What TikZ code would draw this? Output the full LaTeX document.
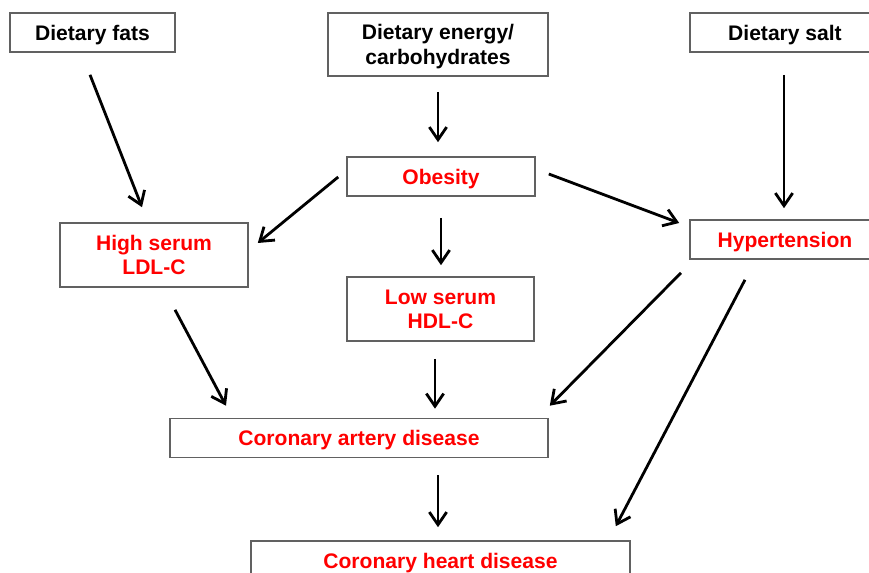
\documentclass[tikz,border=0pt]{standalone}
\usepackage{fontspec}
\setmainfont{Liberation Sans}
\usetikzlibrary{arrows.meta, calc}

\tikzset{
	box/.style={draw=black!62, line width=1.2pt, inner sep=0pt, align=center,
		font=\fontsize{15.8}{18.3}\selectfont\bfseries, text height=11.3pt, text depth=0pt},
	twolines/.style={text height=29.6pt},
	cause/.style={box, text=black},
	effect/.style={box, text=red},
	arr/.style={line width=2.1pt, -{Straight Barb[length=9.5pt, width=13pt, line width=2.1pt]}}
}

\begin{document}
\begin{tikzpicture}[x=0.75pt, y=-0.75pt]
	\useasboundingbox [fill=white] (0,0) rectangle (869,573);

	\node [cause, minimum width=123.75pt, minimum height=29.25pt] (fats) at (92.5,32.5) {Dietary fats};
	\node [cause, twolines, minimum width=165pt, minimum height=47.25pt] (energy) at (438,44.5) {Dietary energy/\\carbohydrates};
	\node [cause, minimum width=142.5pt, minimum height=29.25pt] (salt) at (785,32.5) {Dietary salt};

	\node [effect, minimum width=141pt, minimum height=29.25pt] (obesity) at (441,176.5) {Obesity};
	\node [effect, twolines, minimum width=141pt, minimum height=48pt] (ldl) at (154,255) {High serum\\LDL-C};
	\node [effect, minimum width=142.5pt, minimum height=29.25pt] (hyp) at (785,239.5) {Hypertension};
	\node [effect, twolines, minimum width=140.25pt, minimum height=48pt] (hdl) at (440.5,309) {Low serum\\HDL-C};
	\node [effect, minimum width=283.5pt, minimum height=29.25pt] (cad) at (359,438) {Coronary artery disease};
	\node [effect, minimum width=284.25pt, minimum height=29.25pt] (chd) at (440.5,560.5) {Coronary heart disease};

	\draw [arr] ($(fats.south)+(-2.5,22)$) -- ($(ldl.north)+(-12,-15)$);
	\draw [arr] ($(energy.south)+(0,15)$) -- ($(obesity.north)+(-3,-14)$);
	\draw [arr] ($(salt.south)+(-1,22)$) -- ($(hyp.north)+(-1,-11)$);

	\draw [arr] ($(obesity.west)+(-8,0.5)$) -- ($(ldl.east)+(9,-12)$);
	\draw [arr] ($(obesity.east)+(13,-2.5)$) -- ($(hyp.west)+(-10,-16.5)$);
	\draw [arr] ($(obesity.south)+(0,21)$) -- ($(hdl.north)+(0.5,-11)$);

	\draw [arr] ($(ldl.south)+(21,22)$) -- ($(cad.north)+(-133,-12)$);
	\draw [arr] ($(hdl.south)+(-5.5,17)$) -- ($(cad.north)+(76,-9)$);
	\draw [arr] ($(hyp.south)+(-104,13)$) -- ($(cad.north east)+(1,-12)$);
	\draw [arr] ($(hyp.south)+(-40,20)$) -- ($(chd.north east)+(-15,-14)$);
	\draw [arr] ($(cad.south)+(79,17)$) -- ($(chd.north)+(-2.5,-13)$);

\end{tikzpicture}
\end{document}
